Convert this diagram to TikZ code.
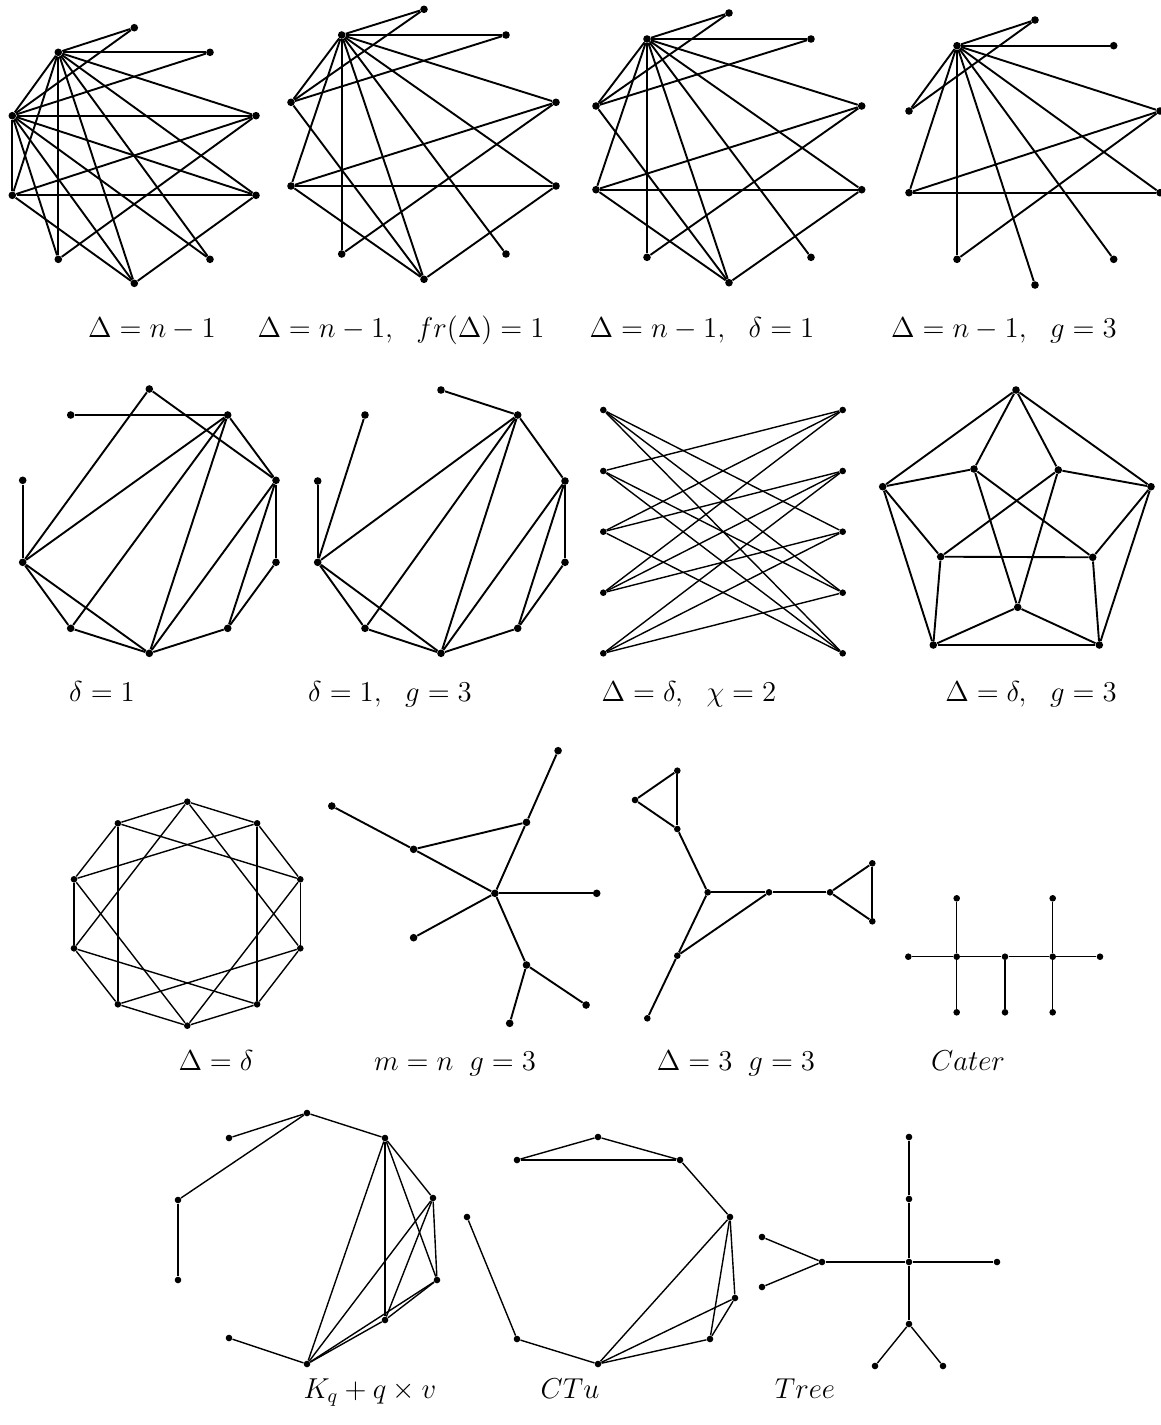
\documentclass[tikz,border=0pt]{standalone}
\begin{document}
\begin{tikzpicture}[x=0.5pt,y=-0.5pt]
\tikzset{
 v/.style={circle,fill=black,inner sep=0pt,minimum size=3.8pt},
 vs/.style={circle,fill=black,inner sep=0pt,minimum size=3.3pt},
 e/.style={line width=0.95pt},
 es/.style={line width=0.7pt},
 lab/.style={anchor=base,inner sep=0pt,font=\fontsize{14.4}{17}\selectfont}
}
\useasboundingbox (0,0) rectangle (1161,1425);
% ---------- Graph 1
\foreach \n/\x/\y in {A/134.3/27.7,B/58.3/52.3,C/210/52.3,D/12.3/115.7,E/256/115.7,F/12.3/195.3,G/256/195.3,H/58.3/259.3,I/210/259.3,J/134.3/283.3}
  \node[v] (a\n) at (\x,\y) {};
\foreach \p/\q in {B/A,B/C,B/D,B/E,B/F,B/G,B/H,B/I,B/J,D/A,D/C,D/E,D/F,D/G,D/H,D/I,D/J,E/F,E/H,F/G,F/J,G/J}
  \draw[e] (a\p) -- (a\q);
% ---------- Graph 2
\foreach \n/\x/\y in {A/424/9.3,B/341.7/35,C/506/35,D/291/102.3,E/556/102.3,F/291/186,G/556/186,H/341.7/254,I/506/254,J/424/279.3}
  \node[v] (b\n) at (\x,\y) {};
\foreach \p/\q in {B/A,B/C,B/D,B/E,B/F,B/G,B/H,B/I,B/J,A/D,C/D,D/J,E/F,E/H,F/G,F/J,G/J}
  \draw[e] (b\p) -- (b\q);
% ---------- Graph 3
\foreach \n/\x/\y in {A/729/13,B/647/39,C/811/39,D/596/106,E/861.7/106,F/596/189.7,G/861.7/189.7,H/647/257.3,I/811/257.3,J/729/282.7}
  \node[v] (c\n) at (\x,\y) {};
\foreach \p/\q in {B/A,B/C,B/D,B/E,B/F,B/G,B/H,B/I,B/J,A/D,C/D,D/J,E/F,E/H,F/G,F/J,G/J}
  \draw[e] (c\p) -- (c\q);
% ---------- Graph 4
\foreach \n/\x/\y in {A/1035/20,B/957/45.7,C/1113.7/45.7,D/909/111,E/1160/111,F/909/192.7,G/1160/192.7,H/957/259.3,I/1113.7/259.3,J/1035/285}
  \node[v] (d\n) at (\x,\y) {};
\foreach \p/\q in {B/A,B/C,B/D,B/E,B/F,B/G,B/H,B/I,B/J,A/D,E/F,E/H,F/G}
  \draw[e] (d\p) -- (d\q);
% ---------- Graph 5
\foreach \n/\x/\y in {A/149.3/389,B/70.7/415,C/227.7/415,D/22.7/480.3,E/276/480.3,F/22.7/562.3,G/276/562.3,H/70.7/628.3,I/227.7/628.3,J/149.3/653.3}
  \node[v] (f\n) at (\x,\y) {};
\foreach \p/\q in {A/F,A/E,B/C,C/F,C/H,C/J,C/E,D/F,E/G,E/J,E/I,F/H,F/J,H/J,I/J,G/I}
  \draw[e] (f\p) -- (f\q);
% ---------- Graph 6
\foreach \n/\x/\y in {A/441/390,B/365/415,C/517.7/415,D/317.7/481,E/565/481,F/317.7/562.3,G/565/562.3,H/365/628.3,I/517.7/628.3,J/441/653.3}
  \node[v] (h\n) at (\x,\y) {};
\foreach \p/\q in {A/C,B/F,D/F,C/F,C/H,C/J,C/E,E/G,E/J,E/I,F/H,F/J,H/J,I/J,G/I}
  \draw[e] (h\p) -- (h\q);
% ---------- Graph 7
\foreach \i/\y in {1/410,2/471,3/531.7,4/592.7,5/653.3}{
  \node[vs] (kL\i) at (603.3,\y) {};
  \node[vs] (kR\i) at (842.7,\y) {};
}
\foreach \p/\q in {1/3,1/4,1/5,2/1,2/4,2/5,3/1,3/2,3/5,4/1,4/2,4/3,5/2,5/3,5/4}
  \draw[es] (kL\p) -- (kR\q);
% ---------- Graph 8
\foreach \n/\x/\y in {T/1016/390,L/882.7/486.7,R/1151/486.7,P/974/469,Q/1058.3/470,S/940.7/556.7,U/1092.7/557.3,M/1017.7/607.3,X/933.3/645,Y/1099.3/645}
  \node[v] (p\n) at (\x,\y) {};
\foreach \p/\q in {T/L,T/R,T/P,T/Q,L/P,L/S,L/X,R/Q,R/U,R/Y,P/U,P/M,Q/S,Q/M,S/U,S/X,U/Y,M/X,M/Y,X/Y}
  \draw[e] (p\p) -- (p\q);
% ---------- Graph 9
\foreach \n/\x/\y in {0/187.3/801.7,1/257.1/823.3,2/300.3/879.3,3/300.3/948.3,4/257.1/1004.3,5/187.3/1025.7,6/117.9/1004.3,7/74/948.3,8/74/879.3,9/117.9/823.3}
  \node[vs] (q\n) at (\x,\y) {};
\foreach \p/\q in {0/1,1/2,2/3,3/4,4/5,5/6,6/7,7/8,8/9,9/0,0/3,1/4,2/5,3/6,4/7,5/8,6/9,7/0,8/1,9/2}
  \draw[es] (q\p) -- (q\q);
% ---------- Graph 10
\foreach \n/\x/\y in {a/331.8/806,b/413.6/849.3,c/526.5/822.3,d/558.1/750.7,o/494.9/893.3,r/596.7/893.3,l/413.6/937.7,m/526.5/965,s/586.1/1005,t/509.7/1023.3}
  \node[v] (r\n) at (\x,\y) {};
\foreach \p/\q in {a/b,b/o,b/c,c/d,c/o,o/r,o/l,o/m,m/s,m/t}
  \draw[e] (r\p) -- (r\q);
% ---------- Graph 11
\foreach \n/\x/\y in {a/677.3/770.7,b/635/800,c/677.3/829,o/707.7/892.3,m/769/892.3,r/830/892.3,s/872.3/863.3,t/872.3/921.3,l/677.3/955.7,u/647.3/1018.3}
  \node[vs] (s\n) at (\x,\y) {};
\foreach \p/\q in {a/b,a/c,b/c,c/o,o/m,m/r,r/s,r/t,s/t,o/l,m/l,l/u}
  \draw[e] (s\p) -- (s\q);
% ---------- Graph 12 (Cater)
\foreach \n/\x/\y in {1/908.3/956.7,2/956.7/956.7,3/1005/956.7,4/1052.7/956.7,5/1100/956.7,6/956.7/898.3,7/1052.7/898.3,8/956.7/1012.3,9/1005/1012.3,10/1052.7/1012.3}
  \node[vs] (t\n) at (\x,\y) {};
\foreach \p/\q in {1/2,2/3,3/4,4/5,2/6,2/8,3/9,4/7,4/10}
  \draw[es] (t\p) -- (t\q);
% ---------- Graph 13
\foreach \n/\x/\y in {1/229/1138,2/307/1113,3/385/1138,4/178/1200,5/178/1280,6/433/1198,7/437/1280,9/385/1320,10/307/1364,11/229/1338}
  \node[vs] (u\n) at (\x,\y) {};
\foreach \p/\q in {1/2,2/3,2/4,4/5,11/10,3/6,3/7,3/9,3/10,6/7,7/9,6/10,7/10,9/10,6/9}
  \draw[es] (u\p) -- (u\q);
% ---------- Graph 14
\foreach \n/\x/\y in {1/517/1160,2/598/1137,3/680/1160,4/467/1217,5/517/1339,6/598/1364,7/730/1217,8/735/1298,9/710/1339}
  \node[vs] (w\n) at (\x,\y) {};
\foreach \p/\q in {1/2,2/3,1/3,3/7,4/5,5/6,6/7,6/8,6/9,7/9,7/8,8/9}
  \draw[es] (w\p) -- (w\q);
% ---------- Graph 15
\foreach \n/\x/\y in {1/762/1237,2/762/1287,3/822/1262,4/909/1262,5/909/1137,6/909/1199,7/997/1262,8/909/1324,9/875/1366,10/943/1366}
  \node[vs] (x\n) at (\x,\y) {};
\foreach \p/\q in {1/3,2/3,3/4,4/6,6/5,4/7,4/8,8/9,8/10}
  \draw[es] (x\p) -- (x\q);
% ---------- Labels
\node[lab] (l1) at (152,337) {$\Delta=n-1$};
\node[lab] (l2) at (401,337) {$\Delta=n-1,\ \ fr(\Delta)=1$};
\node[lab] (l3) at (702,337) {$\Delta=n-1,\ \ \delta=1$};
\node[lab] (l4) at (1004,337) {$\Delta=n-1,\ \ g=3$};
\node[lab] (l5) at (102,701) {$\delta=1$};
\node[lab] (l6) at (390,701) {$\delta=1,\ \ g=3$};
\node[lab] (l7) at (689,701) {$\Delta=\delta,\ \ \chi=2$};
\node[lab] (l8) at (1031,701) {$\Delta=\delta,\ \ g=3$};
\node[lab] (l9) at (216,1070) {$\Delta=\delta$};
\node[lab] (l10) at (455,1070) {$m=n\;\;g=3$};
\node[lab] (l11) at (736,1070) {$\Delta=3\;\;g=3$};
\node[lab] (l12) at (968,1070) {$Cater$};
\node[lab] (l13) at (370,1398) {$K_q+q\times v$};
\node[lab] (l14) at (570,1398) {$CTu$};
\node[lab] (l15) at (805,1398) {$Tree$};
\end{tikzpicture}
\end{document}
